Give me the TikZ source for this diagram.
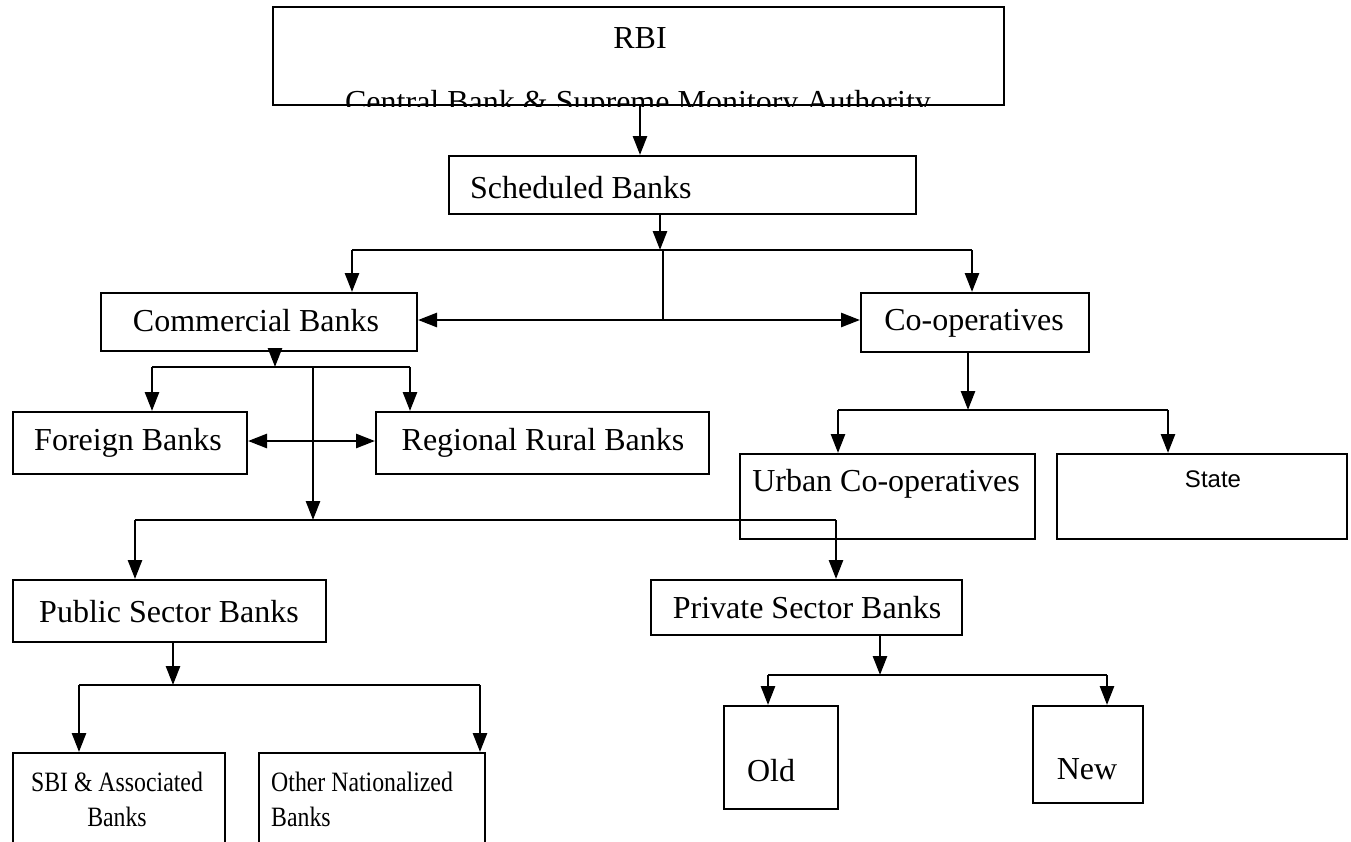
\documentclass[tikz,border=0pt]{standalone}
\usepackage{fontspec}
\setmainfont{Liberation Serif}
\newfontfamily\arialfont{Liberation Sans}
\newfontfamily\narrowserif{Liberation Serif}[FakeStretch=0.85]
\usetikzlibrary{arrows.meta}
\tikzset{
  box/.style={draw, line width=2pt, rectangle, inner sep=0pt, anchor=north west},
  lbl/.style={inner sep=0pt, font=\fontsize{32}{38}\selectfont},
  smalllbl/.style={inner sep=0pt, font=\narrowserif\fontsize{28}{35}\selectfont},
  conn/.style={line width=2.7pt},
  arr/.style={line width=2.7pt, -{Triangle[width=14pt,length=19pt]}},
  darr/.style={line width=2.7pt, {Triangle[width=14pt,length=19pt]}-{Triangle[width=14pt,length=19pt]}}
}
\begin{document}
\begin{tikzpicture}[x=1pt,y=-1pt]
\useasboundingbox[fill=white] (0,0) rectangle (1351,841);
% boxes
\node[box, minimum width=731pt, minimum height=98pt] (rbi) at (272,6) {};
\node[box, minimum width=467pt, minimum height=58pt] (sched) at (448,155) {};
\node[box, minimum width=316pt, minimum height=58pt] (comm) at (100,292) {};
\node[box, minimum width=228pt, minimum height=59pt] (coop) at (860,292) {};
\node[box, minimum width=234pt, minimum height=62pt] (foreign) at (12,411) {};
\node[box, minimum width=333pt, minimum height=62pt] (rrb) at (375,411) {};
\node[box, minimum width=295pt, minimum height=85pt] (urban) at (739,453) {};
\node[box, minimum width=290pt, minimum height=85pt] (state) at (1056,453) {};
\node[box, minimum width=313pt, minimum height=62pt] (public) at (12,579) {};
\node[box, minimum width=311pt, minimum height=55pt] (private) at (650,579) {};
\node[box, minimum width=212pt, minimum height=110pt] (sbi) at (12,752) {};
\node[box, minimum width=226pt, minimum height=110pt] (other) at (258,752) {};
\node[box, minimum width=114pt, minimum height=103pt] (old) at (723,705) {};
\node[box, minimum width=110pt, minimum height=97pt] (new) at (1032,705) {};
% texts
\node[lbl] (trbi) at (640,38) {RBI};
\begin{scope}
\clip (rbi.north west) rectangle (rbi.south east);
\node[lbl, anchor=base] (trbi2) at (638,112) {Central Bank \& Supreme Monitory Authority};
\end{scope}
\node[lbl, anchor=west] (tsched) at (470,188) {Scheduled Banks};
\node[lbl] (tcomm) at (256,321) {Commercial Banks};
\node[lbl] (tcoop) at (974,323) {Co-operatives};
\node[lbl] (tforeign) at (128,443) {Foreign Banks};
\node[lbl] (trrb) at (543,443) {Regional Rural Banks};
\node[lbl] (turban) at (886,484) {Urban Co-operatives};
\node[inner sep=0pt, font=\arialfont\fontsize{24}{29}\selectfont] (tstate) at (1213,479) {State};
\node[lbl] (tpublic) at (169,612) {Public Sector Banks};
\node[lbl] (tprivate) at (807,608) {Private Sector Banks};
\node[smalllbl, align=center] (tsbi) at (117,799) {SBI \& Associated\\Banks};
\node[smalllbl, align=left, anchor=west] (tother) at (271,799) {Other Nationalized\\Banks};
\node[lbl] (told) at (771,771) {Old};
\node[lbl] (tnew) at (1087,769) {New};
% junction coordinates
\coordinate (j1) at (660,250);
\coordinate (j1m) at (663,250);
\coordinate (j1c) at (663,320);
\coordinate (j2) at (275,367);
\coordinate (j2m) at (313,367);
\coordinate (j3) at (313,520);
\coordinate (j4) at (968,410);
\coordinate (j5) at (173,685);
\coordinate (j6) at (880,675);
% connectors
\draw[arr] (640,0 |- rbi.south) -- (640,0 |- sched.north);
\draw[arr] (j1 |- sched.south) -- (j1);
\draw[conn] (352,250) -- (972,250);
\draw[arr] (352,250) -- (352,0 |- comm.north);
\draw[arr] (972,250) -- (972,0 |- coop.north);
\draw[conn] (j1m) -- (j1c);
\draw[darr] (comm.east |- j1c) -- (coop.west |- j1c);
% commercial
\draw[arr] (j2 |- comm.south) -- (j2);
\draw[conn] (152,367) -- (410,367);
\draw[arr] (152,367) -- (152,0 |- foreign.north);
\draw[arr] (410,367) -- (410,0 |- rrb.north);
\draw[arr] (j2m) -- (j3);
\draw[darr] (foreign.east |- 0,441) -- (rrb.west |- 0,441);
\draw[conn] (135,520) -- (836,520);
\draw[arr] (135,520) -- (135,0 |- public.north);
\draw[arr] (836,520) -- (836,0 |- private.north);
% co-operatives
\draw[arr] (j4 |- coop.south) -- (j4);
\draw[conn] (838,410) -- (1168,410);
\draw[arr] (838,410) -- (838,0 |- urban.north);
\draw[arr] (1168,410) -- (1168,0 |- state.north);
% public
\draw[arr] (j5 |- public.south) -- (j5);
\draw[conn] (79,685) -- (480,685);
\draw[arr] (79,685) -- (79,0 |- sbi.north);
\draw[arr] (480,685) -- (480,0 |- other.north);
% private
\draw[arr] (j6 |- private.south) -- (j6);
\draw[conn] (768,675) -- (1107,675);
\draw[arr] (768,675) -- (768,0 |- old.north);
\draw[arr] (1107,675) -- (1107,0 |- new.north);
\end{tikzpicture}
\end{document}
